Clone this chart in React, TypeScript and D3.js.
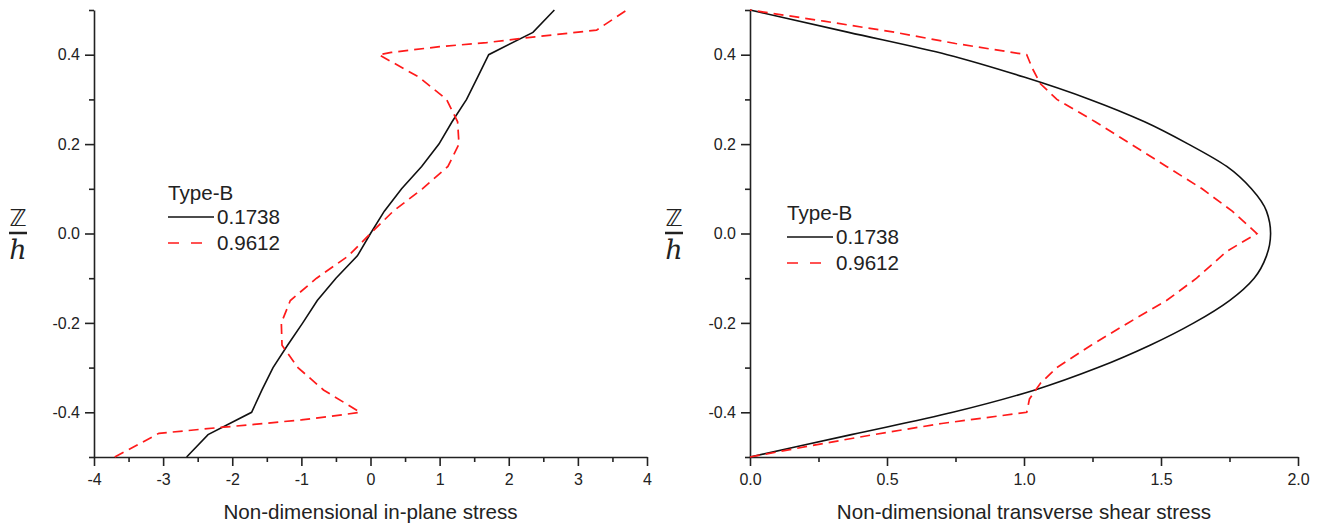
import { useEffect, useRef } from "react";
import { select, scaleLinear, line, axisLeft, axisBottom, curveLinear, curveMonotoneY } from "d3";

// shared thickness coordinate z/h
const zTicks = [-0.4, -0.2, 0, 0.2, 0.4];
const zMinor = [-0.5, -0.3, -0.1, 0.1, 0.3, 0.5];

// left panel: in-plane stress
const inPlaneTicks = [-4, -3, -2, -1, 0, 1, 2, 3, 4];
const inPlaneMinor = [-3.5, -2.5, -1.5, -0.5, 0.5, 1.5, 2.5, 3.5];
const inPlaneZ1 = [-0.5, -0.45, -0.4, -0.35, -0.3, -0.25, -0.2, -0.15, -0.1, -0.05, 0, 0.05, 0.1, 0.15, 0.2, 0.25, 0.3, 0.35, 0.4, 0.45, 0.5];
const inPlane1738 = [-2.66, -2.35, -1.72, -1.57, -1.41, -1.2, -0.98, -0.77, -0.5, -0.19, 0, 0.2, 0.45, 0.74, 0.99, 1.18, 1.39, 1.55, 1.71, 2.35, 2.66];
const inPlaneZ2 = [-0.5, -0.447, -0.434, -0.428, -0.417, -0.409, -0.4, -0.35, -0.3, -0.25, -0.2, -0.15, -0.1, -0.05, 0, 0.05, 0.1, 0.15, 0.2, 0.25, 0.3, 0.35, 0.4, 0.405, 0.418, 0.427, 0.44, 0.455, 0.5];
const inPlane9612 = [-3.7, -3.06, -2.18, -1.75, -1.0, -0.57, -0.15, -0.68, -1.05, -1.28, -1.29, -1.16, -0.78, -0.32, 0, 0.33, 0.75, 1.12, 1.28, 1.26, 1.1, 0.7, 0.12, 0.3, 1.0, 1.68, 2.38, 3.27, 3.71];

// right panel: transverse shear stress
const shearTicks = [0, 0.5, 1.0, 1.5, 2.0];
const shearMinor = [0.25, 0.75, 1.25, 1.75];
const shearZ1 = [-0.5, -0.45, -0.4, -0.35, -0.3, -0.25, -0.2, -0.15, -0.1, -0.05, 0, 0.05, 0.1, 0.15, 0.2, 0.25, 0.3, 0.35, 0.4, 0.45, 0.5];
const shear1738 = [0, 0.37, 0.74, 1.04, 1.27, 1.46, 1.62, 1.75, 1.84, 1.885, 1.9, 1.885, 1.83, 1.74, 1.6, 1.44, 1.24, 1.0, 0.72, 0.36, 0];
const shearZ2 = [-0.5, -0.475, -0.45, -0.425, -0.4, -0.37, -0.335, -0.3, -0.25, -0.2, -0.15, -0.1, -0.04, 0, 0.05, 0.1, 0.15, 0.2, 0.25, 0.3, 0.335, 0.37, 0.4, 0.425, 0.45, 0.475, 0.5];
const shear9612 = [0, 0.22, 0.45, 0.7, 1.01, 1.02, 1.06, 1.12, 1.245, 1.38, 1.52, 1.63, 1.74, 1.85, 1.76, 1.65, 1.52, 1.39, 1.26, 1.12, 1.06, 1.03, 1.01, 0.75, 0.53, 0.27, 0];

const legendTitle = "Type-B";
const seriesNames = ["0.1738", "0.9612"];

const FONT = "'Liberation Sans', Arial, sans-serif";
const INK = "#222";
const RED = "#ff1a1a";

type Panel = {
  x0: number;
  x1: number;
  domain: [number, number];
  ticks: number[];
  minor: number[];
  fmt: (d: number) => string;
  title: string;
  blackZ: number[];
  blackX: number[];
  redZ: number[];
  redX: number[];
  smooth: boolean;
  legendX: number;
  legendY: number;
};

const panels: Panel[] = [
  {
    x0: 94, x1: 647, domain: [-4, 4], ticks: inPlaneTicks, minor: inPlaneMinor,
    fmt: (d) => String(d), title: "Non-dimensional in-plane stress",
    blackZ: inPlaneZ1, blackX: inPlane1738, redZ: inPlaneZ2, redX: inPlane9612,
    smooth: false, legendX: 168, legendY: 200,
  },
  {
    x0: 750, x1: 1298, domain: [0, 2], ticks: shearTicks, minor: shearMinor,
    fmt: (d) => d.toFixed(1), title: "Non-dimensional transverse shear stress",
    blackZ: shearZ1, blackX: shear1738, redZ: shearZ2, redX: shear9612,
    smooth: true, legendX: 787, legendY: 220,
  },
];

export default function App() {
  const svgRef = useRef<SVGSVGElement | null>(null);

  useEffect(() => {
    if (!svgRef.current) return;
    const svg = select(svgRef.current);
    svg.selectAll("*").remove();

    const top = 10;
    const bottom = 457;
    const y = scaleLinear().domain([-0.5, 0.5]).range([bottom, top]);

    panels.forEach((p) => {
      const x = scaleLinear().domain(p.domain).range([p.x0, p.x1]);
      const g = svg.append("g");

      // minor ticks
      g.append("g")
        .attr("transform", `translate(${p.x0},0)`)
        .call(axisLeft(y).tickValues(zMinor).tickSize(5).tickFormat(() => ""))
        .call((a) => a.select(".domain").remove());
      g.append("g")
        .attr("transform", `translate(0,${bottom})`)
        .call(axisBottom(x).tickValues(p.minor).tickSize(5).tickFormat(() => ""))
        .call((a) => a.select(".domain").remove());

      // major axes
      const yAxis = g.append("g")
        .attr("transform", `translate(${p.x0},0)`)
        .call(axisLeft(y).tickValues(zTicks).tickSize(9).tickSizeOuter(0).tickPadding(5).tickFormat((d) => (d as number).toFixed(1)));
      const xAxis = g.append("g")
        .attr("transform", `translate(0,${bottom})`)
        .call(axisBottom(x).tickValues(p.ticks).tickSize(9).tickSizeOuter(0).tickPadding(8).tickFormat((d) => p.fmt(d as number)));

      g.selectAll("path, line").attr("stroke", INK).attr("stroke-width", 1.6);
      [yAxis, xAxis].forEach((a) =>
        a.selectAll("text").attr("font-family", FONT).attr("font-size", 16).attr("fill", INK)
      );

      // axis title
      g.append("text")
        .attr("x", (p.x0 + p.x1) / 2)
        .attr("y", 519)
        .attr("text-anchor", "middle")
        .attr("font-family", FONT)
        .attr("font-size", 20.6)
        .attr("fill", INK)
        .text(p.title);

      // z/h label
      const lx = p.x0 - 76;
      g.append("text")
        .attr("x", lx).attr("y", 226)
        .attr("text-anchor", "middle")
        .attr("font-family", "'DejaVu Sans', sans-serif")
        .attr("font-size", 23)
        .attr("fill", INK)
        .text("ℤ");
      g.append("line")
        .attr("x1", lx - 9).attr("x2", lx + 9)
        .attr("y1", 233).attr("y2", 233)
        .attr("stroke", INK).attr("stroke-width", 2.5);
      g.append("text")
        .attr("x", lx).attr("y", 259)
        .attr("text-anchor", "middle")
        .attr("font-family", "'DejaVu Serif', serif")
        .attr("font-style", "italic")
        .attr("font-size", 27)
        .attr("fill", INK)
        .text("ℎ");

      // curves
      const black = p.blackZ.map((z, i) => ({ z, v: p.blackX[i] }));
      const red = p.redZ.map((z, i) => ({ z, v: p.redX[i] }));
      const gen = line<{ z: number; v: number }>()
        .x((d) => x(d.v))
        .y((d) => y(d.z));

      g.append("path")
        .attr("d", gen.curve(p.smooth ? curveMonotoneY : curveLinear)(black))
        .attr("fill", "none")
        .attr("stroke", "#111")
        .attr("stroke-width", 1.6);
      g.append("path")
        .attr("d", gen.curve(curveLinear)(red))
        .attr("fill", "none")
        .attr("stroke", RED)
        .attr("stroke-width", 1.7)
        .attr("stroke-dasharray", "10,6");

      // legend
      const lg = g.append("g").attr("font-family", FONT).attr("font-size", 20.6).attr("fill", INK);
      lg.append("text").attr("x", p.legendX).attr("y", p.legendY).text(legendTitle);
      lg.append("line")
        .attr("x1", p.legendX).attr("x2", p.legendX + 46)
        .attr("y1", p.legendY + 17).attr("y2", p.legendY + 17)
        .attr("stroke", "#111").attr("stroke-width", 1.6);
      lg.append("text").attr("x", p.legendX + 49).attr("y", p.legendY + 24).text(seriesNames[0]);
      lg.append("line")
        .attr("x1", p.legendX).attr("x2", p.legendX + 34)
        .attr("y1", p.legendY + 43).attr("y2", p.legendY + 43)
        .attr("stroke", RED).attr("stroke-width", 1.7)
        .attr("stroke-dasharray", "11,12");
      lg.append("text").attr("x", p.legendX + 49).attr("y", p.legendY + 50).text(seriesNames[1]);
    });
  }, []);

  return (
    <svg
      ref={svgRef}
      width={1322}
      height={526}
      style={{ position: "absolute", left: 0, top: 0, background: "#fff" }}
    />
  );
}
